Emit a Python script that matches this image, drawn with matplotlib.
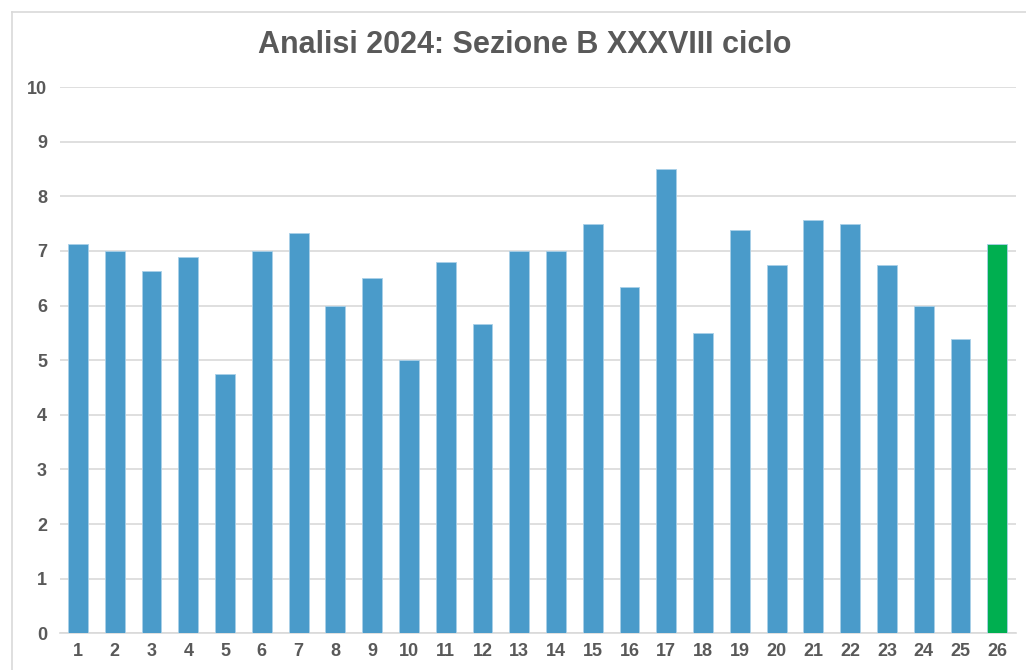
import matplotlib
matplotlib.use("Agg")
import matplotlib.pyplot as plt
from matplotlib.lines import Line2D

categories = [str(i) for i in range(1, 27)]
values = [7.13, 7.0, 6.63, 6.88, 4.75, 7.0, 7.33, 6.0, 6.5, 5.0,
          6.8, 5.67, 7.0, 7.0, 7.5, 6.33, 8.5, 5.5, 7.38, 6.75,
          7.57, 7.5, 6.75, 6.0, 5.38, 7.13]
bar_colors = ['#4a9bca'] * 25 + ['#00af50']
title = "Analisi 2024: Sezione B XXXVIII ciclo"
yticks = list(range(0, 11))

plt.rcParams['font.family'] = ['Liberation Sans', 'DejaVu Sans']
W, H = 1026, 670
fig = plt.figure(figsize=(W / 100, H / 100), dpi=100)
ax = fig.add_axes([59.6 / W, 1 - 633.3 / H, (1015.6 - 59.6) / W, (633.3 - 87) / H])

x = list(range(len(categories)))
ax.bar(x, values, width=0.54, color=bar_colors, edgecolor='#a9d0e8', linewidth=0.6, zorder=3)
ax.set_xlim(-0.5, len(categories) - 0.5)
ax.set_ylim(0, 10)
ax.set_yticks(yticks)
ax.set_xticks(x)
ax.set_xticklabels(categories)
ax.grid(axis='y', color='#d9d9d9', linewidth=1.2, zorder=0)
for s in ['top', 'right', 'left']:
    ax.spines[s].set_visible(False)
ax.spines['bottom'].set_color('#d9d9d9')
ax.spines['bottom'].set_linewidth(1.2)
ax.tick_params(axis='both', length=0, labelsize=13, labelcolor='#595959')
ax.tick_params(axis='y', pad=9)
ax.tick_params(axis='x', pad=7)
for lbl in ax.get_xticklabels() + ax.get_yticklabels():
    lbl.set_fontweight('bold')

fig.text(525 / W, 1 - 45 / H, title, ha='center', va='center',
         fontsize=22, fontweight='bold', color='#595959')

fig.add_artist(Line2D([12 / W, 12 / W], [0, 1 - 12 / H], transform=fig.transFigure,
                      color='#d9d9d9', linewidth=1.2))
fig.add_artist(Line2D([12 / W, 1], [1 - 12 / H, 1 - 12 / H], transform=fig.transFigure,
                      color='#d9d9d9', linewidth=1.2))

fig.savefig("out.png", dpi=100)
